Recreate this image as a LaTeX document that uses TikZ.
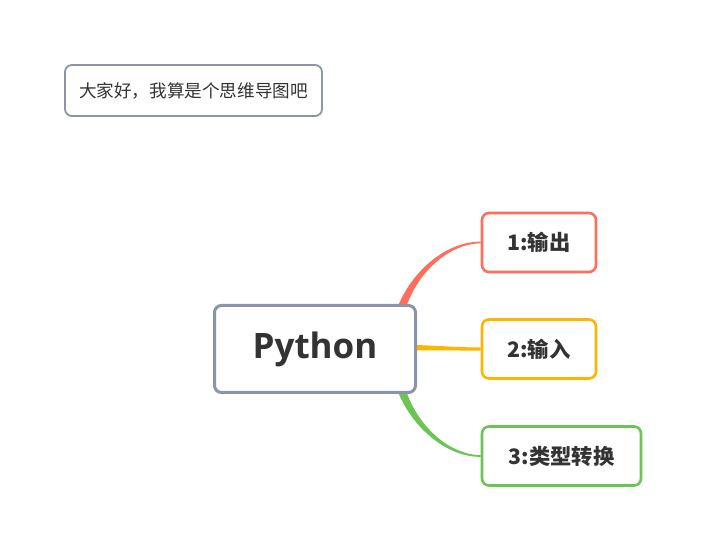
\documentclass[tikz,border=0pt]{standalone}
\usepackage{fontspec}
\setmainfont{Open Sans}
\newfontfamily\cjk{Noto Sans CJK SC}
\usepackage{tikz}
\usetikzlibrary{calc,backgrounds}
\usepackage{xcolor}
\definecolor{rootgray}{HTML}{8A95A8}
\definecolor{txtgray}{HTML}{333333}
\definecolor{brred}{HTML}{FF6E5C}
\definecolor{bryellow}{HTML}{FFB400}
\definecolor{brgreen}{HTML}{6CC552}

\begin{document}
\begin{tikzpicture}[x=1pt,y=-1pt, every node/.style={text=txtgray}]
\tikzstyle{box}=[draw,fill=white,rounded corners=7pt,align=center,inner sep=0pt]
\tikzstyle{leaf}=[box,line width=2.6pt,minimum height=59pt,font=\cjk\fontsize{21.3}{25}\selectfont\bfseries]
\useasboundingbox (0,0) rectangle (705,548);
% note at top left
\node[box,draw=rootgray,line width=1.8pt,minimum width=257pt,minimum height=51pt,font=\cjk\fontsize{17.6}{21}\selectfont] (note) at (193.5,90.5) {大家好，我算是个思维导图吧};
% central topic
\node[box,draw=rootgray,line width=3pt,minimum width=201pt,minimum height=87pt,font=\fontsize{35}{40}\selectfont\bfseries] (root) at (315,349) {\raisebox{-2pt}{Python}};
% branches
\node[leaf,draw=brred,minimum width=114pt] (out) at (539,242.5) {1:输出};
\node[leaf,draw=bryellow,minimum width=114pt] (inp) at (539,349) {2:输入};
\node[leaf,draw=brgreen,minimum width=159pt] (conv) at (561.5,456) {3:类型转换};
\begin{scope}[on background layer]
\fill[white] (0,0) rectangle (705,548);
\fill[brred] ($(root.east)+(-26,-16)$) .. controls +(6,-50) and +(-40,-0.7) .. ($(out.west)+(0,-0.8)$)
  -- ($(out.west)+(0,0.8)$) .. controls +(-38,0.5) and +(3,-48) .. ($(root.east)+(-16,-16)$) -- cycle;
\fill[bryellow] ($(root.east)+(-5,-4)$) .. controls +(30,0.5) and +(-30,0) .. ($(inp.west)+(0,-1.6)$)
  -- ($(inp.west)+(0,1.6)$) .. controls +(-30,0) and +(30,-0.5) .. ($(root.east)+(-5,1.5)$) -- cycle;
\fill[brgreen] ($(root.east)+(-26,16)$) .. controls +(6,50) and +(-40,0.7) .. ($(conv.west)+(0,0.8)$)
  -- ($(conv.west)+(0,-0.8)$) .. controls +(-38,-0.5) and +(3,48) .. ($(root.east)+(-16,16)$) -- cycle;
\end{scope}
\end{tikzpicture}
\end{document}
